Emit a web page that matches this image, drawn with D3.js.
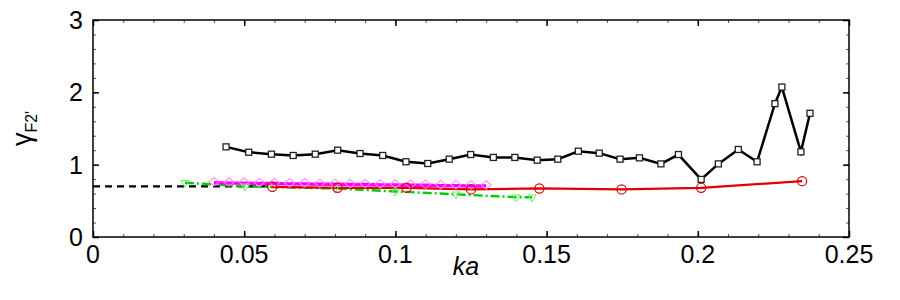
<!DOCTYPE html>
<html><head><meta charset="utf-8">
<script src="https://cdn.jsdelivr.net/npm/d3@7"></script>
<style>body{margin:0;background:#fff}svg{display:block}text{font-family:"Liberation Sans",Arial,sans-serif}</style>
</head><body><svg id="c" width="900" height="300"></svg>
<script>
const xTicks = [0, 0.05, 0.1, 0.15, 0.2, 0.25];
const xTickLabels = ["0", "0.05", "0.1", "0.15", "0.2", "0.25"];
const yTicks = [0, 1, 2, 3];
const yTickLabels = ["0", "1", "2", "3"];

const blackKa = [0.0440,0.0515,0.0590,0.0662,0.0735,0.0809,0.0883,0.0958,0.1035,0.1107,0.1178,0.1249,0.1324,0.1395,0.1469,0.1537,0.1605,0.1674,0.1743,0.1807,0.1878,0.1936,0.2011,0.2068,0.2134,0.2196,0.2255,0.2278,0.2341,0.2371];
const blackY  = [1.246,1.172,1.145,1.127,1.145,1.200,1.154,1.127,1.040,1.016,1.076,1.140,1.100,1.100,1.062,1.076,1.186,1.159,1.076,1.094,1.011,1.140,0.796,1.011,1.210,1.040,1.844,2.073,1.177,1.710];

const redKa = [0.0593,0.0809,0.1037,0.1250,0.1476,0.1748,0.2011,0.2345];
const redY  = [0.694,0.680,0.680,0.658,0.671,0.658,0.680,0.772];

const magKa = [0.040,0.045,0.050,0.055,0.060,0.065,0.070,0.075,0.080,0.085,0.090,0.095,0.100,0.105,0.110,0.115,0.120,0.125,0.130];
const magY  = [0.750,0.745,0.745,0.740,0.740,0.735,0.735,0.730,0.730,0.725,0.725,0.720,0.720,0.715,0.715,0.710,0.710,0.705,0.705];

const greenKa = [0.0304,0.0503,0.0800,0.1000,0.1200,0.1400,0.1452];
const greenY  = [0.750,0.700,0.670,0.630,0.590,0.550,0.550];

const dashKa = [0, 0.058];
const dashY  = [0.70, 0.70];

const svg = d3.select("#c");
const L = 93, R = 849, T = 20, B = 237;
const x = d3.scaleLinear().domain([0, 0.25]).range([L, R]);
const y = d3.scaleLinear().domain([0, 3]).range([B, T]);

const xMinor = d3.range(0, 0.2501, 0.01);
const yMinor = d3.range(0, 3.001, 0.2);
function tickAxis(axisFn, scale, vals, size, tx, ty){
  const g = svg.append("g").attr("transform", `translate(${tx},${ty})`)
    .call(axisFn(scale).tickValues(vals).tickSize(size).tickFormat(""));
  g.select(".domain").remove();
  g.selectAll("line").attr("stroke", "#000").attr("stroke-width", 1);
  return g;
}
tickAxis(d3.axisTop, x, xMinor, 3, 0, B).selectAll("line").attr("stroke","#555");
tickAxis(d3.axisTop, x, xTicks, 6, 0, B).selectAll("line").attr("stroke-width",1.5);
tickAxis(d3.axisBottom, x, xMinor, 3, 0, T).selectAll("line").attr("stroke","#555");
tickAxis(d3.axisBottom, x, xTicks, 6, 0, T).selectAll("line").attr("stroke-width",1.5);
tickAxis(d3.axisRight, y, yMinor, 3, L, 0).selectAll("line").attr("stroke","#555");
tickAxis(d3.axisRight, y, yTicks, 6, L, 0).selectAll("line").attr("stroke-width",1.5);
tickAxis(d3.axisLeft, y, yMinor, 3, R, 0).selectAll("line").attr("stroke","#555");
tickAxis(d3.axisLeft, y, yTicks, 6, R, 0).selectAll("line").attr("stroke-width",1.5);

svg.append("g").selectAll("text").data(xTicks).join("text")
  .attr("x", d => x(d)).attr("y", 263).attr("text-anchor", "middle")
  .attr("font-size", 25).text((d,i) => xTickLabels[i]);
svg.append("g").selectAll("text").data(yTicks).join("text")
  .attr("x", 83).attr("y", d => y(d) + 9).attr("text-anchor", "end")
  .attr("font-size", 25).text((d,i) => yTickLabels[i]);

svg.append("text").attr("x", (L+R)/2 - 5).attr("y", 275).attr("text-anchor","middle")
  .attr("font-size", 25).attr("font-style","italic").text("ka");
const yl = svg.append("text").attr("transform", `translate(31,${(T+B)/2}) rotate(-90)`)
  .attr("text-anchor","middle").attr("font-size", 27);
yl.append("tspan").text("γ");
yl.append("tspan").attr("font-size", 16).attr("dy", 6).text("F2'");

svg.append("defs").append("clipPath").attr("id","pc")
  .append("rect").attr("x", L).attr("y", T).attr("width", R-L).attr("height", B-T);
const P = svg.append("g").attr("clip-path", "url(#pc)");
const line = d3.line().x(d => x(d[0])).y(d => y(d[1]));
const zip = (a, b) => a.map((v, i) => [v, b[i]]);

P.append("path").datum(zip(dashKa, dashY)).attr("d", line)
  .attr("fill","none").attr("stroke","#000").attr("stroke-width",2.2).attr("stroke-dasharray","7,5");
P.append("path").datum(zip(greenKa, greenY)).attr("d", line)
  .attr("fill","none").attr("stroke","#00cc00").attr("stroke-width",2.4).attr("stroke-dasharray","9,3,2,3");
P.append("path").datum(zip(redKa, redY)).attr("d", line)
  .attr("fill","none").attr("stroke","#e00000").attr("stroke-width",2.2);
P.append("path").datum(zip(magKa, magY)).attr("d", line)
  .attr("fill","none").attr("stroke","#ff00ff").attr("stroke-width",3.4);
P.append("g").selectAll("path").data(zip(magKa, magY)).join("path")
  .attr("d", d3.symbol(d3.symbolDiamond2, 55)())
  .attr("transform", d => `translate(${x(d[0])},${y(d[1]) - 1}) scale(1.1,0.9)`)
  .attr("fill","none").attr("stroke","#ff80ff").attr("stroke-width",1);
P.append("g").selectAll("path").data(zip(greenKa, greenY)).join("path")
  .attr("d", d3.symbol(d3.symbolTriangle2, 45)())
  .attr("transform", d => `translate(${x(d[0])},${y(d[1])}) rotate(180)`)
  .attr("fill","none").attr("stroke","#66ee66").attr("stroke-width",1);
P.append("g").selectAll("circle").data(zip(redKa, redY)).join("circle")
  .attr("cx", d => x(d[0])).attr("cy", d => y(d[1])).attr("r", 4.6)
  .attr("fill","none").attr("stroke","#e00000").attr("stroke-width",1.2);
P.append("path").datum(zip(blackKa, blackY)).attr("d", line)
  .attr("fill","none").attr("stroke","#000").attr("stroke-width",2.5);
P.append("g").selectAll("rect").data(zip(blackKa, blackY)).join("rect")
  .attr("x", d => x(d[0]) - 3).attr("y", d => y(d[1]) - 3)
  .attr("width", 6).attr("height", 6)
  .attr("fill","#fff").attr("stroke","#222").attr("stroke-width",1.3);

svg.append("rect").attr("x", L).attr("y", T).attr("width", R-L).attr("height", B-T)
  .attr("fill","none").attr("stroke","#000").attr("stroke-width",1.5);
</script></body></html>
